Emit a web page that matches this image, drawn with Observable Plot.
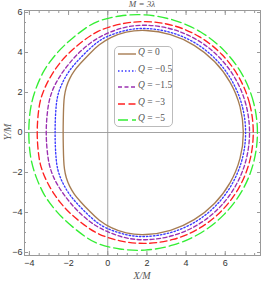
<!DOCTYPE html>
<html><head><meta charset="utf-8">
<script src="https://cdn.jsdelivr.net/npm/d3@7"></script>
<script src="https://cdn.jsdelivr.net/npm/@observablehq/plot@0.6"></script>
<style>
body{margin:0;background:#fff;}
#wrap{position:relative;width:262px;height:282px;overflow:hidden;}
.lbl{position:absolute;font-family:"Liberation Serif",serif;font-style:italic;font-size:10px;color:#555;white-space:nowrap;line-height:1;}
#legend{position:absolute;left:114px;top:46px;width:59px;height:81px;box-sizing:border-box;border:1px solid #bbb;border-radius:5px;background:#fff;}
.row{position:absolute;left:0;width:57px;height:12px;}
.row svg{position:absolute;left:2px;top:1px;}
.row span{position:absolute;left:23px;top:-1px;font-family:"Liberation Serif",serif;font-size:9.5px;color:#555;white-space:nowrap;}
.row i{font-style:italic;}
</style></head>
<body>
<div id="wrap"></div>
<script>
// ---- data ----
const qLabels = ["0", "−0.5", "−1.5", "−3", "−5"];
const colors = ["#a67c52", "#3a3aff", "#9b30b0", "#ff2020", "#33ee33"];
const dashes = [null, "1.5,2", "4,2.5", "7,3.5", "10,4"];

const ptsQ0 = [[6.98,0],[6.81,1.31],[6.30,2.54],[5.49,3.59],[4.44,4.40],[3.22,4.95],[1.9,5.15],[0.9,5.05],[0.16,4.77],[-0.45,4.4],[-0.94,3.93],[-1.4,3.45],[-1.71,3.1],[-1.95,2.7],[-2.13,2.27],[-2.22,1.8],[-2.25,1.43],[-2.27,0.7],[-2.28,0],
  [-2.27,-0.7],[-2.25,-1.43],[-2.22,-1.8],[-2.13,-2.27],[-1.95,-2.7],[-1.71,-3.1],[-1.4,-3.45],[-0.94,-3.93],[-0.45,-4.4],[0.16,-4.77],[0.9,-5.05],[1.9,-5.15],[3.22,-4.95],[4.44,-4.40],[5.49,-3.59],[6.30,-2.54],[6.81,-1.31]];

const ptsQ05 = [[7.1,0],[6.92,1.35],[6.40,2.6],[5.58,3.68],[4.5,4.52],[3.26,5.05],[1.9,5.25],[0.9,5.14],[-0.18,4.77],[-0.72,4.38],[-1.2,3.93],[-1.62,3.5],[-1.96,3.1],[-2.22,2.68],[-2.42,2.27],[-2.56,1.85],[-2.63,1.43],[-2.68,0.7],[-2.69,0],
  [-2.68,-0.7],[-2.63,-1.43],[-2.56,-1.85],[-2.42,-2.27],[-2.22,-2.68],[-1.96,-3.1],[-1.62,-3.5],[-1.2,-3.93],[-0.72,-4.38],[-0.18,-4.77],[0.9,-5.14],[1.9,-5.25],[3.26,-5.05],[4.5,-4.52],[5.58,-3.68],[6.40,-2.6],[6.92,-1.35]];

const ptsQ15 = [[7.3,0],[7.12,1.4],[6.58,2.7],[5.72,3.82],[4.6,4.68],[3.3,5.22],[1.9,5.42],[0.7,5.27],[-0.48,4.77],[-1.05,4.36],[-1.54,3.93],[-1.93,3.5],[-2.25,3.1],[-2.53,2.68],[-2.76,2.27],[-2.92,1.85],[-3.03,1.43],[-3.12,0.7],[-3.15,0],
  [-3.12,-0.7],[-3.03,-1.43],[-2.92,-1.85],[-2.76,-2.27],[-2.53,-2.68],[-2.25,-3.1],[-1.93,-3.5],[-1.54,-3.93],[-1.05,-4.36],[-0.48,-4.77],[0.7,-5.27],[1.9,-5.42],[3.3,-5.22],[4.6,-4.68],[5.72,-3.82],[6.58,-2.7],[7.12,-1.4]];

const ptsQ3 = [[7.49,0],[7.31,1.45],[6.75,2.8],[5.86,3.96],[4.7,4.85],[3.35,5.41],[1.9,5.6],[0.6,5.45],[-0.52,5.1],[-1.35,4.53],[-2.05,3.93],[-2.43,3.5],[-2.73,3.1],[-2.99,2.68],[-3.2,2.27],[-3.37,1.85],[-3.49,1.43],[-3.58,0.7],[-3.61,0],
  [-3.58,-0.7],[-3.49,-1.43],[-3.37,-1.85],[-3.2,-2.27],[-2.99,-2.68],[-2.73,-3.1],[-2.43,-3.5],[-2.05,-3.93],[-1.35,-4.53],[-0.52,-5.1],[0.6,-5.45],[1.9,-5.6],[3.35,-5.41],[4.7,-4.85],[5.86,-3.96],[6.75,-2.8],[7.31,-1.45]];

const ptsQ5 = [[7.71,0],[7.51,1.52],[6.93,2.93],[5.99,4.14],[4.78,5.08],[3.37,5.68],[1.85,5.94],[0.6,5.85],[-0.52,5.6],[-1.15,5.22],[-1.74,4.77],[-2.22,4.36],[-2.64,3.93],[-2.98,3.5],[-3.27,3.1],[-3.66,2.27],[-3.92,1.43],[-4.01,0.7],[-4.04,0],
  [-4.01,-0.7],[-3.92,-1.43],[-3.66,-2.27],[-3.27,-3.1],[-2.98,-3.5],[-2.64,-3.93],[-2.22,-4.36],[-1.74,-4.77],[-1.15,-5.22],[-0.52,-5.6],[0.6,-5.85],[1.85,-5.94],[3.37,-5.68],[4.78,-5.08],[5.99,-4.14],[6.93,-2.93],[7.51,-1.52]];

const xTicksMajor = [-4, -2, 0, 2, 4, 6];
const yTicksMajor = [-6, -4, -2, 0, 2, 4, 6];
const xTicksMinor = [-4, -3.5, -3, -2.5, -2, -1.5, -1, -0.5, 0, 0.5, 1, 1.5, 2, 2.5, 3, 3.5, 4, 4.5, 5, 5.5, 6, 6.5, 7, 7.5];
const yTicksMinor = [-6, -5.5, -5, -4.5, -4, -3.5, -3, -2.5, -2, -1.5, -1, -0.5, 0, 0.5, 1, 1.5, 2, 2.5, 3, 3.5, 4, 4.5, 5, 5.5, 6];
const origin = [0];

// ---- build ----
const series = [ptsQ0, ptsQ05, ptsQ15, ptsQ3, ptsQ5];

const fmt = d => d < 0 ? "−" + Math.abs(d) : String(d);
const tickFont = {fontSize: 9, fontFamily: "Liberation Sans, sans-serif"};

const marks = [
  Plot.frame({stroke: "#999"}),
  Plot.ruleX(origin, {stroke: "#999", strokeWidth: 0.9}),
  Plot.ruleY(origin, {stroke: "#999", strokeWidth: 0.9}),
  Plot.axisX(xTicksMinor, {anchor: "bottom", tickSize: -2, tickFormat: () => "", stroke: "#999", label: null}),
  Plot.axisX(xTicksMinor, {anchor: "top", tickSize: -2, tickFormat: () => "", stroke: "#999", label: null}),
  Plot.axisY(yTicksMinor, {anchor: "left", tickSize: -2, tickFormat: () => "", stroke: "#999", label: null}),
  Plot.axisY(yTicksMinor, {anchor: "right", tickSize: -2, tickFormat: () => "", stroke: "#999", label: null}),
  Plot.axisX(xTicksMajor, {anchor: "bottom", tickSize: -4, tickFormat: () => "", stroke: "#999", label: null}),
  Plot.axisX(xTicksMajor, {anchor: "top", tickSize: -4, tickFormat: () => "", stroke: "#999", label: null}),
  Plot.axisY(yTicksMajor, {anchor: "left", tickSize: -4, tickFormat: () => "", stroke: "#999", label: null}),
  Plot.axisY(yTicksMajor, {anchor: "right", tickSize: -4, tickFormat: () => "", stroke: "#999", label: null}),
  Plot.axisX(xTicksMajor, {anchor: "bottom", tickSize: 0, tickPadding: 4, tickFormat: fmt, fill: "#333", label: null, ...tickFont}),
  Plot.axisY(yTicksMajor, {anchor: "left", tickSize: 0, tickPadding: 2, tickFormat: fmt, fill: "#333", label: null, ...tickFont}),
];
for (let i = series.length - 1; i >= 0; i--) {
  marks.push(Plot.line(series[i], {
    x: d => d[0], y: d => d[1], curve: "basis-closed",
    stroke: colors[i], strokeWidth: 1.35,
    strokeDasharray: dashes[i] || undefined
  }));
}

const chart = Plot.plot({
  width: 262, height: 282,
  marginLeft: 24, marginRight: 2, marginTop: 10, marginBottom: 27,
  x: {domain: [-4.25, 7.8], label: null},
  y: {domain: [-6.15, 6.1], label: null},
  style: {background: "transparent", overflow: "visible"},
  marks
});
const wrap = document.getElementById("wrap");
wrap.appendChild(chart);

function addLabel(html, css) {
  const d = document.createElement("div");
  d.className = "lbl";
  d.innerHTML = html;
  Object.assign(d.style, css);
  wrap.appendChild(d);
  return d;
}
addLabel("M = 3λ", {left: "142px", top: "0px", transform: "translateX(-50%)", fontSize: "9px"});
addLabel("X/M", {left: "142px", top: "271px", transform: "translateX(-50%)"});
addLabel("Y/M", {left: "8px", top: "132px", transform: "translate(-50%,-50%) rotate(-90deg)"});

const legend = document.createElement("div");
legend.id = "legend";
const rowTops = [1, 18, 34, 51, 67];
qLabels.forEach((q, i) => {
  const r = document.createElement("div");
  r.className = "row";
  r.style.top = rowTops[i] + "px";
  r.innerHTML = `<svg width="20" height="10"><line x1="1" y1="5" x2="19" y2="5" stroke="${colors[i]}" stroke-width="1.4" ${dashes[i] ? `stroke-dasharray="${dashes[i]}"` : ""}/></svg><span><i>Q</i> = ${q}</span>`;
  legend.appendChild(r);
});
wrap.appendChild(legend);
</script>
</body></html>
